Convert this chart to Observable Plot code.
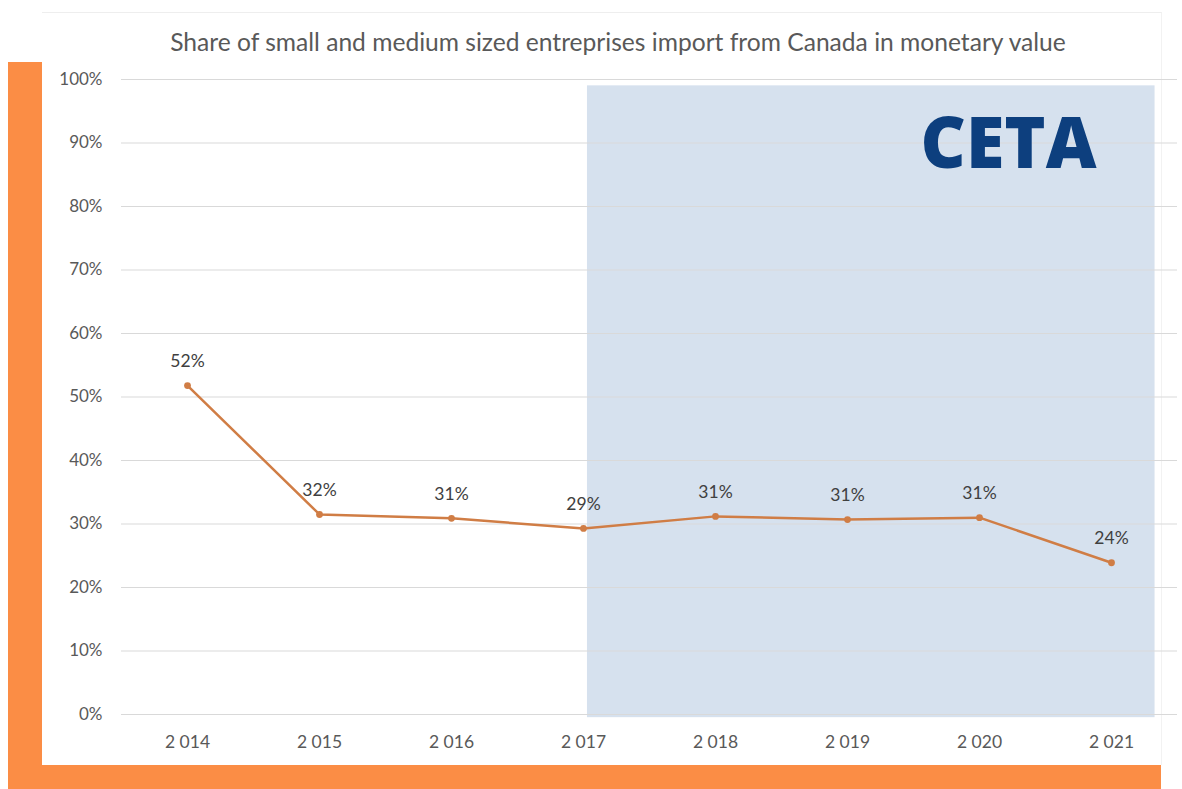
<!DOCTYPE html>
<html>
<head>
<meta charset="utf-8">
<script src="https://cdn.jsdelivr.net/npm/d3@7"></script>
<script src="https://cdn.jsdelivr.net/npm/@observablehq/plot@0.6"></script>
<style>
  html, body { margin: 0; padding: 0; background: #fff; }
  #wrap { position: relative; width: 1182px; height: 789px; overflow: hidden; background: #fff; }
  #card { position: absolute; left: 42px; top: 12px; width: 1120px; height: 753px; border-top: 1px solid #eeeeee; border-right: 1px solid #f2f2f2; box-sizing: border-box; }
  #barLeft { position: absolute; left: 8px; top: 62px; width: 34px; height: 727px; background: #fb8d45; z-index: 3; }
  #barBottom { position: absolute; left: 8px; top: 765px; width: 1153px; height: 24px; background: #fb8d45; z-index: 3; }
  #title { position: absolute; left: 0; width: 1236px; top: 27px; line-height: 30px; text-align: center; font-family: Lato, "Open Sans", sans-serif; font-size: 24.6px; color: #595959; z-index: 2; }
  #chart { position: absolute; left: 0; top: 0; z-index: 1; }
</style>
</head>
<body>
<div id="wrap">
  <div id="card"></div>
  <div id="chart"></div>
  <div id="title">Share of small and medium sized entreprises import from Canada in monetary value</div>
  <div id="barLeft"></div>
  <div id="barBottom"></div>
</div>
<script>
const years = [2014, 2015, 2016, 2017, 2018, 2019, 2020, 2021];
const yearLabels = ["2 014", "2 015", "2 016", "2 017", "2 018", "2 019", "2 020", "2 021"];
const shares = [51.8, 31.5, 30.9, 29.3, 31.2, 30.7, 31.0, 23.9];
const valueLabels = ["52%", "32%", "31%", "29%", "31%", "31%", "31%", "24%"];
const yTicks = [0, 10, 20, 30, 40, 50, 60, 70, 80, 90, 100];
const cetaPeriod = [{start: 2017.03, end: 2021.33, low: -0.5, high: 99}];
const cetaLogo = [{year: 2020.22, share: 89.6, text: "CETA"}];

const data = years.map((y, i) => ({year: y, share: shares[i], label: valueLabels[i]}));
const labelOf = new Map(years.map((y, i) => [y, yearLabels[i]]));

const chart = Plot.plot({
  width: 1182,
  height: 789,
  marginLeft: 121,
  marginRight: 5,
  marginTop: 79,
  marginBottom: 75,
  style: {background: "transparent", fontFamily: "Lato, 'Open Sans', sans-serif"},
  x: {type: "linear", domain: [2013.5, 2021.5]},
  y: {domain: [0, 100]},
  marks: [
    Plot.rect(cetaPeriod, {x1: "start", x2: "end", y1: "low", y2: "high", fill: "#d6e1ee"}),
    Plot.gridY(yTicks, {stroke: "#d9d9d9", strokeOpacity: 1, strokeWidth: 1.2}),
    Plot.axisY(yTicks, {tickSize: 0, tickPadding: 19, tickFormat: d => d + "%", fontSize: 17, fill: "#595959", label: null}),
    Plot.axisX(years, {tickSize: 0, tickPadding: 21, tickFormat: d => labelOf.get(d), fontSize: 17.5, fill: "#595959", label: null}),
    Plot.text(cetaLogo, {x: "year", y: "share", text: "text", fill: "#0d3f7e", fontSize: 70, fontWeight: 800, fontFamily: "'Open Sans', sans-serif", textAnchor: "middle"}),
    Plot.line(data, {x: "year", y: "share", stroke: "#d07d45", strokeWidth: 2.5}),
    Plot.dot(data, {x: "year", y: "share", r: 3.4, fill: "#d07d45", stroke: "none"}),
    Plot.text(data, {x: "year", y: "share", text: "label", dy: -24, fontSize: 17.5, fill: "#404040"})
  ]
});
document.getElementById("chart").appendChild(chart);
</script>
</body>
</html>
